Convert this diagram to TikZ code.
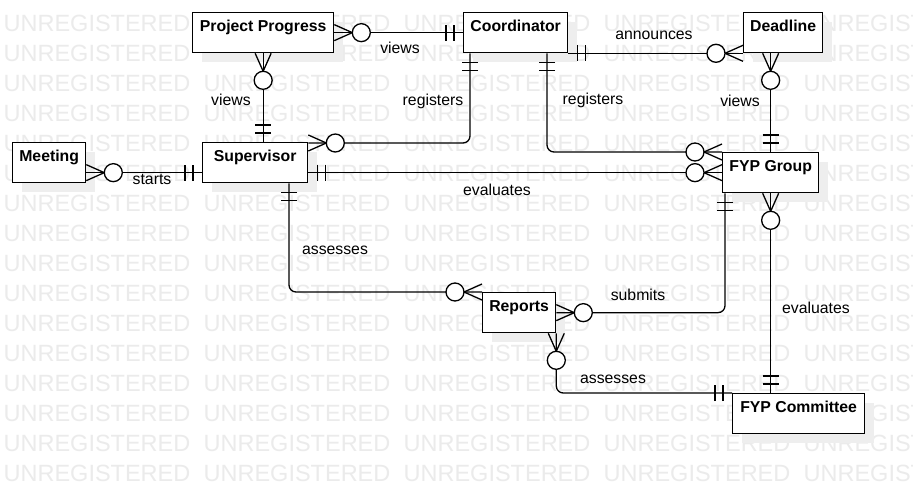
\documentclass[tikz,border=0pt]{standalone}
\usepackage{fontspec}
\setmainfont{Liberation Sans}
\usetikzlibrary{shadows,calc}
\definecolor{wmgray}{HTML}{EBEBEB}
\definecolor{shadowgray}{HTML}{EEEEEE}
\tikzset{
  entity/.style={draw, fill=white, minimum width=#1, text height=19pt, text depth=21pt,
    inner xsep=0pt, inner ysep=0pt, anchor=north west,
    font=\bfseries\fontsize{15.8}{19}\selectfont,
    drop shadow={shadow xshift=9pt, shadow yshift=-9pt, fill=shadowgray, opacity=1}},
  lbl/.style={font=\fontsize{15.8}{19}\selectfont, anchor=base, inner sep=0pt},
  wm/.style={font=\fontsize{23.5}{28}\selectfont, text=wmgray, anchor=base west, inner sep=0pt},
  rel/.style={rounded corners=7pt},
  zmany/.pic={\draw (0,8) -- (18,0) -- (0,-8); \draw[fill=white] (27,0) circle[radius=9pt];},
  onlyone/.pic={\draw (9,-8) -- (9,8) (17,-8) -- (17,8);}
}
\begin{document}
\begin{tikzpicture}[x=1pt, y=-1pt, line width=1.3pt]
\useasboundingbox (0,0) rectangle (913,482);
\fill[white] (0,0) rectangle (913,482);
\begin{scope}
  \clip (0,0) rectangle (913,482);
  \foreach \k in {0,...,15} {
    \foreach \j in {0,...,4} {
      \node[wm] (wm-\k-\j) at (3+200*\j, 31+30*\k) {UNREGISTERED};
    }
  }
\end{scope}

% entities
\node[entity=141pt] (pp) at (192,12) {Project Progress};
\node[entity=104pt] (coord) at (463,12) {Coordinator};
\node[entity=79pt] (deadline) at (743,12) {Deadline};
\node[entity=73pt] (meeting) at (12,142) {Meeting};
\node[entity=105pt] (sup) at (202,142) {Supervisor};
\node[entity=96pt] (fyp) at (722,152) {FYP Group};
\node[entity=73pt] (reports) at (482,292) {Reports};
\node[entity=132pt] (committee) at (732,393) {FYP Committee};

% connector end points
\coordinate (c3a) at ([xshift=7pt]coord.south west);
\coordinate (c3b) at ([yshift=-1pt]sup.north east);
\coordinate (c4a) at ([xshift=84pt]coord.south west);
\coordinate (c8a) at ([yshift=-10pt]meeting.east);
\coordinate (c8b) at ([yshift=-10pt]sup.west);
\coordinate (c9a) at ([xshift=87pt]sup.south west);
\coordinate (c10a) at ([xshift=3pt]fyp.south west);

% connectors
\draw (pp.east) -- (coord.west);
\draw (pp.south) -- (pp.south |- sup.north);
\draw[rel] (c3a) |- (c3b);
\draw[rel] (c4a) |- (fyp.north west);
\draw (coord.south east) -- (deadline.south west);
\draw (fyp.north) -- (fyp.north |- deadline.south);
\draw (fyp.west) -- (fyp.west -| sup.east);
\draw (c8a) -- (c8b);
\draw[rel] (c9a) |- (reports.north west);
\draw[rel] (c10a) |- (reports.east);
\draw (fyp.south) -- (fyp.south |- committee.north);
\draw[rel] (reports.south east) |- (committee.north west);

% end markers
\pic[rotate=0] at (pp.east) {zmany};
\pic[rotate=180] at (coord.west) {onlyone};
\pic[rotate=270] at (pp.south) {zmany};
\pic[rotate=90] at (pp.south |- sup.north) {onlyone};
\pic[rotate=270] at (c3a) {onlyone};
\pic[rotate=0] at (c3b) {zmany};
\pic[rotate=270] at (c4a) {onlyone};
\pic[rotate=180] at (fyp.north west) {zmany};
\pic[rotate=0] at (coord.south east) {onlyone};
\pic[rotate=180] at (deadline.south west) {zmany};
\pic[rotate=270] at (fyp.north |- deadline.south) {zmany};
\pic[rotate=90] at (fyp.north) {onlyone};
\pic[rotate=0] at (fyp.west -| sup.east) {onlyone};
\pic[rotate=180] at (fyp.west) {zmany};
\pic[rotate=0] at (c8a) {zmany};
\pic[rotate=180] at (c8b) {onlyone};
\pic[rotate=270] at (c9a) {onlyone};
\pic[rotate=180] at (reports.north west) {zmany};
\pic[rotate=270] at (c10a) {onlyone};
\pic[rotate=0] at (reports.east) {zmany};
\pic[rotate=270] at (fyp.south) {zmany};
\pic[rotate=90] at (fyp.south |- committee.north) {onlyone};
\pic[rotate=270] at (reports.south east) {zmany};
\pic[rotate=180] at (committee.north west) {onlyone};

% labels
\node[lbl] (l1) at (400,53) {views};
\node[lbl] (l2) at (231,105) {views};
\node[lbl] (l3) at (433,105) {registers};
\node[lbl] (l4) at (593,104) {registers};
\node[lbl] (l5) at (654,39) {announces};
\node[lbl] (l6) at (740,106) {views};
\node[lbl] (l7) at (497,195) {evaluates};
\node[lbl] (l8) at (152,184) {starts};
\node[lbl] (l9) at (335,254) {assesses};
\node[lbl] (l10) at (638,300) {submits};
\node[lbl] (l11) at (816,313) {evaluates};
\node[lbl] (l12) at (613,383) {assesses};
\end{tikzpicture}
\end{document}
